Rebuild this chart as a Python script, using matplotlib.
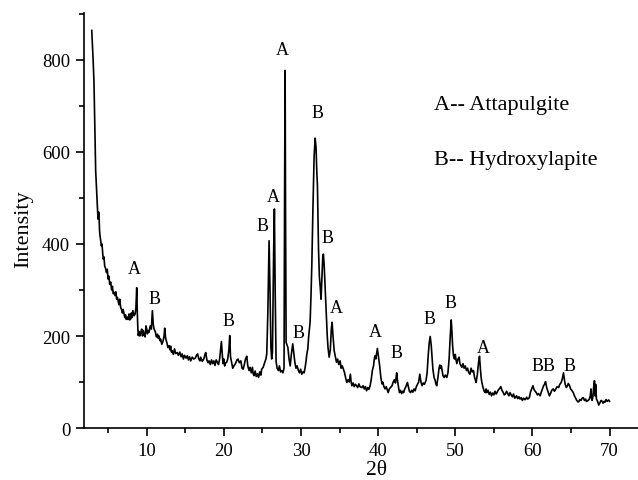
import matplotlib
matplotlib.use("Agg")
import matplotlib.pyplot as plt
from matplotlib.ticker import MultipleLocator

plt.rcParams['font.family'] = ['Liberation Serif', 'DejaVu Serif']

# XRD pattern: 2theta (deg) and intensity (counts)
two_theta = [
    2.87, 3.05, 3.16, 3.28, 3.38, 3.51, 3.62, 3.68, 3.75, 3.81, 3.88, 3.94, 4.05, 4.11, 4.2, 4.3,
    4.37, 4.45, 4.55, 4.68, 4.78, 4.89, 4.98, 5.1, 5.2, 5.33, 5.45, 5.55, 5.66, 5.76, 5.9, 6.0,
    6.1, 6.19, 6.3, 6.4, 6.5, 6.62, 6.75, 6.85, 6.95, 7.06, 7.15, 7.25, 7.35, 7.48, 7.6, 7.7,
    7.8, 7.92, 8.0, 8.1, 8.2, 8.35, 8.5, 8.6, 8.7, 8.78, 8.85, 8.91, 9.0, 9.1, 9.22, 9.35,
    9.45, 9.55, 9.65, 9.8, 9.9, 10.0, 10.1, 10.2, 10.3, 10.45, 10.6, 10.73, 10.85, 10.95, 11.1, 11.25,
    11.4, 11.5, 11.6, 11.7, 11.8, 11.95, 12.1, 12.25, 12.33, 12.45, 12.6, 12.75, 12.9, 13.0, 13.1, 13.2,
    13.3, 13.45, 13.6, 13.75, 13.97, 14.1, 14.3, 14.45, 14.6, 14.75, 14.9, 15.1, 15.27, 15.4, 15.55, 15.7,
    15.9, 16.1, 16.3, 16.45, 16.6, 16.75, 16.9, 17.0, 17.2, 17.4, 17.55, 17.65, 17.8, 17.95, 18.08, 18.25,
    18.4, 18.55, 18.7, 18.85, 19.0, 19.16, 19.3, 19.45, 19.6, 19.68, 19.78, 19.88, 20.0, 20.1, 20.25, 20.37,
    20.5, 20.65, 20.76, 20.86, 21.0, 21.15, 21.3, 21.5, 21.7, 21.84, 22.0, 22.2, 22.35, 22.5, 22.65, 22.8,
    22.97, 23.1, 23.27, 23.4, 23.55, 23.7, 23.8, 23.9, 24.05, 24.2, 24.35, 24.5, 24.65, 24.8, 24.9, 25.1,
    25.3, 25.45, 25.56, 25.7, 25.86, 25.98, 26.1, 26.2, 26.3, 26.45, 26.55, 26.65, 26.77, 26.9, 27.07, 27.2,
    27.35, 27.5, 27.65, 27.8, 27.87, 27.94, 28.0, 28.07, 28.2, 28.3, 28.45, 28.6, 28.75, 28.93, 29.05, 29.2,
    29.35, 29.5, 29.66, 29.8, 29.95, 30.1, 30.25, 30.4, 30.5, 30.65, 30.75, 30.88, 31.0, 31.18, 31.3, 31.4,
    31.55, 31.7, 31.83, 31.95, 32.05, 32.13, 32.2, 32.27, 32.38, 32.48, 32.6, 32.72, 32.82, 32.9, 33.0, 33.1,
    33.25, 33.4, 33.5, 33.65, 33.8, 33.93, 34.03, 34.15, 34.3, 34.45, 34.6, 34.75, 34.9, 35.07, 35.2, 35.35,
    35.5, 35.65, 35.8, 35.94, 36.1, 36.25, 36.4, 36.5, 36.6, 36.75, 36.9, 37.05, 37.2, 37.35, 37.5, 37.65,
    37.9, 38.05, 38.2, 38.35, 38.5, 38.65, 38.8, 38.96, 39.1, 39.25, 39.4, 39.5, 39.6, 39.7, 39.8, 39.9,
    40.0, 40.1, 40.2, 40.35, 40.5, 40.6, 40.75, 40.9, 41.05, 41.2, 41.3, 41.45, 41.6, 41.8, 41.95, 42.1,
    42.25, 42.4, 42.5, 42.65, 42.77, 42.9, 43.05, 43.2, 43.3, 43.45, 43.6, 43.8, 43.95, 44.05, 44.2, 44.35,
    44.5, 44.65, 44.8, 44.95, 45.1, 45.25, 45.4, 45.55, 45.7, 45.85, 46.0, 46.2, 46.35, 46.5, 46.62, 46.75,
    46.88, 47.0, 47.1, 47.25, 47.4, 47.5, 47.6, 47.75, 47.9, 48.0, 48.1, 48.2, 48.4, 48.55, 48.7, 48.9,
    49.05, 49.2, 49.35, 49.47, 49.55, 49.65, 49.77, 49.9, 50.0, 50.1, 50.2, 50.35, 50.5, 50.6, 50.75, 50.86,
    51.0, 51.15, 51.3, 51.45, 51.6, 51.75, 51.9, 52.05, 52.2, 52.36, 52.5, 52.6, 52.7, 52.85, 53.0, 53.14,
    53.25, 53.35, 53.45, 53.6, 53.75, 53.9, 54.0, 54.1, 54.25, 54.4, 54.55, 54.7, 54.85, 55.0, 55.15, 55.3,
    55.4, 55.55, 55.7, 55.9, 56.05, 56.2, 56.35, 56.5, 56.65, 56.8, 56.95, 57.1, 57.25, 57.4, 57.55, 57.7,
    57.8, 57.95, 58.1, 58.25, 58.4, 58.55, 58.7, 58.85, 59.0, 59.1, 59.25, 59.4, 59.6, 59.75, 59.9, 60.07,
    60.2, 60.35, 60.5, 60.65, 60.8, 61.0, 61.15, 61.3, 61.45, 61.6, 61.7, 61.85, 62.0, 62.2, 62.35, 62.5,
    62.7, 62.85, 63.0, 63.2, 63.4, 63.55, 63.7, 63.85, 64.03, 64.15, 64.25, 64.4, 64.55, 64.65, 64.8, 64.95,
    65.1, 65.3, 65.45, 65.6, 65.75, 65.9, 66.0, 66.15, 66.3, 66.45, 66.6, 66.75, 66.9, 67.0, 67.15, 67.35,
    67.5, 67.6, 67.65, 67.75, 67.85, 67.95, 68.05, 68.12, 68.2, 68.3, 68.45, 68.6, 68.75, 68.9, 69.0, 69.15,
    69.3, 69.4, 69.55, 69.7, 69.9, 70.0,
]
intensity = [
    864, 800, 752, 650, 559, 513, 470, 454, 470, 465, 430, 418, 405, 396, 400, 378,
    367, 372, 352, 346, 338, 345, 324, 330, 312, 317, 300, 308, 292, 295, 288, 296,
    280, 284, 275, 268, 280, 262, 257, 250, 258, 248, 240, 246, 236, 241, 236, 248,
    235, 237, 250, 240, 255, 244, 248, 262, 305, 250, 215, 201, 210, 200, 208, 215,
    200, 212, 204, 198, 222, 215, 205, 212, 208, 222, 215, 255, 225, 215, 210, 198,
    204, 195, 200, 190, 193, 182, 188, 200, 217, 195, 186, 175, 179, 170, 178, 165,
    168, 160, 172, 162, 164, 158, 165, 155, 161, 150, 158, 152, 157, 148, 155, 146,
    154, 150, 152, 158, 161, 150, 146, 154, 145, 150, 160, 164, 148, 142, 146, 138,
    148, 140, 146, 136, 148, 143, 138, 150, 175, 188, 165, 140, 150, 135, 142, 143,
    150, 170, 201, 155, 143, 130, 135, 140, 148, 150, 142, 146, 130, 128, 138, 150,
    156, 135, 125, 132, 120, 132, 118, 114, 124, 112, 118, 110, 122, 115, 128, 132,
    143, 150, 161, 250, 407, 300, 175, 150, 165, 380, 476, 300, 145, 130, 125, 135,
    122, 125, 120, 130, 500, 777, 450, 186, 180, 175, 150, 135, 160, 183, 165, 143,
    130, 135, 125, 120, 128, 117, 122, 120, 128, 145, 160, 172, 200, 230, 290, 353,
    480, 590, 630, 610, 556, 527, 460, 389, 330, 309, 280, 330, 372, 378, 355, 317,
    260, 201, 175, 154, 170, 215, 230, 200, 168, 155, 143, 150, 138, 146, 130, 135,
    128, 120, 108, 99, 105, 100, 117, 100, 92, 98, 90, 95, 92, 88, 96, 90,
    88, 92, 85, 90, 81, 88, 84, 92, 105, 125, 135, 150, 157, 150, 162, 173,
    160, 148, 135, 110, 96, 100, 90, 85, 90, 82, 77, 85, 88, 92, 100, 105,
    98, 120, 105, 88, 77, 82, 75, 80, 77, 85, 90, 99, 88, 80, 77, 82,
    78, 85, 81, 90, 95, 100, 117, 100, 92, 98, 95, 103, 120, 160, 185, 199,
    180, 150, 128, 110, 103, 95, 92, 110, 130, 137, 130, 135, 114, 110, 115, 110,
    120, 150, 200, 235, 215, 180, 157, 150, 160, 148, 140, 150, 154, 140, 135, 132,
    140, 130, 135, 125, 130, 120, 117, 130, 122, 125, 110, 105, 99, 115, 140, 156,
    130, 110, 99, 88, 80, 77, 85, 77, 82, 73, 78, 70, 76, 72, 80, 74,
    77, 82, 85, 90, 82, 78, 72, 74, 80, 75, 70, 77, 72, 68, 74, 65,
    66, 70, 64, 68, 63, 66, 60, 65, 62, 62, 67, 63, 66, 78, 85, 92,
    84, 80, 77, 72, 75, 70, 78, 85, 92, 96, 101, 88, 80, 70, 75, 82,
    85, 80, 84, 90, 88, 95, 98, 105, 120, 105, 95, 88, 92, 97, 93, 85,
    82, 77, 70, 65, 60, 57, 57, 62, 60, 65, 66, 60, 63, 58, 59, 62,
    70, 85, 65, 60, 70, 90, 103, 70, 95, 63, 58, 50, 55, 60, 59, 54,
    58, 56, 62, 58, 61, 58,
]

# phase labels: letter, 2theta, height
peak_letters = ['A', 'B', 'B', 'B', 'A', 'A', 'B', 'B', 'B', 'A',
                'A', 'B', 'B', 'B', 'A', 'BB', 'B']
peak_x = [8.45, 10.95, 20.65, 25.0, 26.4, 27.6, 29.65, 32.1, 33.4, 34.55,
          39.7, 42.4, 46.6, 49.4, 53.7, 61.5, 64.8]
peak_y = [346, 282, 233, 441, 503, 822, 208, 686, 414, 262,
          209, 164, 239, 273, 175, 135, 135]

legend_lines = ['A-- Attapulgite', 'B-- Hydroxylapite']
legend_y = [704, 583]

fig = plt.figure(figsize=(6.38, 4.81), dpi=100)
ax = fig.add_axes([0.1317, 0.108, 0.918, 0.863])

ax.plot(two_theta, intensity, color='black', lw=1.2)

for s, x, y in zip(peak_letters, peak_x, peak_y):
    ax.text(x, y, s, ha='center', va='center', fontsize=13)
for s, y in zip(legend_lines, legend_y):
    ax.text(47.2, y, s, ha='left', va='center', fontsize=16)

ax.set_xlim(1.87, 77.8)
ax.set_ylim(0, 902)
ax.xaxis.set_major_locator(MultipleLocator(10))
ax.xaxis.set_minor_locator(MultipleLocator(5))
ax.yaxis.set_major_locator(MultipleLocator(200))
ax.yaxis.set_minor_locator(MultipleLocator(100))

for side in ['top', 'right']:
    ax.spines[side].set_visible(False)
for side in ['left', 'bottom']:
    ax.spines[side].set_linewidth(1.2)
ax.tick_params(which='major', length=6, width=1.2, labelsize=13.5, pad=4)
ax.tick_params(which='minor', length=3.5, width=1.2)

# label centred under the full (cropped) axis, sits just above the bottom edge
ax.set_xlabel('2θ', fontsize=15.5, labelpad=0.5)
ax.set_ylabel('Intensity', fontsize=16, labelpad=6, y=0.482)

fig.savefig('out.png', dpi=100)
